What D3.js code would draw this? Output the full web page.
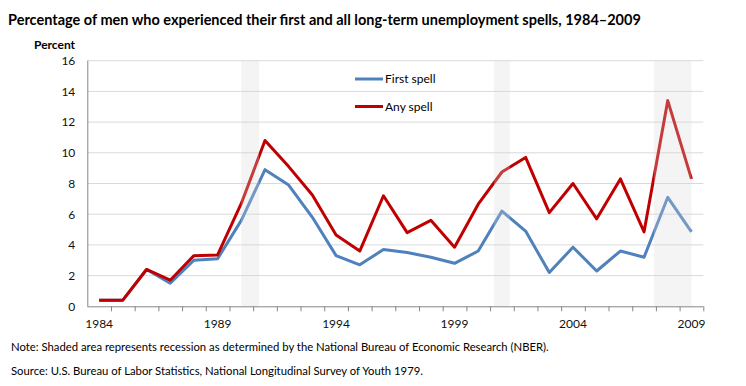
<!DOCTYPE html>
<html>
<head>
<meta charset="utf-8">
<script src="https://cdn.jsdelivr.net/npm/d3@7"></script>
<style>
body { margin: 0; background: #fff; }
svg text { font-family: Lato, "Open Sans", sans-serif; fill: #000; }
.title { font-weight: bold; font-size: 14.5px; }
.axis path, .axis line { stroke: #868686; }
.axis text { font-size: 12px; fill: #111; }
.grid line { stroke: #d9d9d9; }
.note { font-size: 11.3px; }
</style>
</head>
<body>
<svg id="chart" width="746" height="386"></svg>
<script>
var years = d3.range(1984, 2010);
var firstSpell = [0.4, 0.4, 2.4, 1.5, 3.0, 3.1, 5.6, 8.9, 7.9, 5.8, 3.3, 2.7, 3.7,
    3.5, 3.2, 2.8, 3.6, 6.2, 4.9, 2.2, 3.85, 2.3, 3.6, 3.2, 7.1, 4.85];
var anySpell = [0.4, 0.4, 2.4, 1.7, 3.3, 3.35, 6.7, 10.8, 9.1, 7.25, 4.65, 3.6, 7.2,
    4.8, 5.6, 3.85, 6.65, 8.75, 9.7, 6.1, 8.0, 5.7, 8.3, 4.85, 13.4, 8.3];
var yTicks = [0, 2, 4, 6, 8, 10, 12, 14, 16];
var xLabels = [1984, 1989, 1994, 1999, 2004, 2009];
// NBER recessions as fractional years (start, end)
var recessionStart = [1990.5, 2001.17, 2007.92];
var recessionEnd = [1991.25, 2001.83, 2009.5];

var margin = {top: 60.7, left: 87.3, right: 42.7, bottom: 79.7};
var width = 746 - margin.left - margin.right,
    height = 386 - margin.top - margin.bottom;

var svg = d3.select("#chart");

svg.append("text")
    .attr("class", "title")
    .attr("x", 8)
    .attr("y", 25)
    .text("Percentage of men who experienced their first and all long-term unemployment spells, 1984\u20132009");

svg.append("text")
    .attr("x", 34)
    .attr("y", 49)
    .style("font-size", "12px")
    .style("font-weight", "bold")
    .text("Percent");

var g = svg.append("g")
    .attr("transform", "translate(" + margin.left + "," + margin.top + ")");

// years map to the band they start; points sit in the middle of each year
var x = d3.scaleLinear().domain([1984, 2010]).range([0, width]);
var y = d3.scaleLinear().domain([0, 16]).range([height, 0]);

g.append("g")
    .attr("class", "grid")
    .selectAll("line")
    .data(yTicks.slice(1))
    .enter()
    .append("line")
    .attr("x1", 0)
    .attr("x2", width)
    .attr("y1", function(d) { return y(d); })
    .attr("y2", function(d) { return y(d); });

var line = d3.line()
    .x(function(d, i) { return x(years[i] + 0.5); })
    .y(function(d) { return y(d); });

g.append("path")
    .datum(firstSpell)
    .attr("fill", "none")
    .attr("stroke", "#4f81bd")
    .attr("stroke-width", 3)
    .attr("stroke-linejoin", "round")
    .attr("d", line);

g.append("path")
    .datum(anySpell)
    .attr("fill", "none")
    .attr("stroke", "#c00000")
    .attr("stroke-width", 3)
    .attr("stroke-linejoin", "round")
    .attr("d", line);

// recession shading sits over the lines, slightly see-through
g.selectAll(".recession")
    .data(recessionStart)
    .enter()
    .append("rect")
    .attr("class", "recession")
    .attr("x", function(d) { return x(d); })
    .attr("y", 0)
    .attr("width", function(d, i) { return x(recessionEnd[i]) - x(d); })
    .attr("height", height)
    .attr("fill", "#d9d9d9")
    .attr("opacity", 0.28);

var yAxis = g.append("g")
    .attr("class", "axis")
    .call(d3.axisLeft(y).tickValues(yTicks).tickSize(0).tickPadding(12));
yAxis.select(".domain").attr("d", "M0.5,0V" + height);

var xAxis = g.append("g")
    .attr("class", "axis")
    .attr("transform", "translate(0," + height + ")")
    .call(d3.axisBottom(x).tickValues(d3.range(1985, 2011)).tickSize(5).tickFormat(""));
xAxis.select(".domain").attr("d", "M0,0.5H" + width);

g.append("g")
    .attr("class", "axis")
    .selectAll("text")
    .data(xLabels)
    .enter()
    .append("text")
    .attr("x", function(d) { return x(d + 0.5); })
    .attr("y", height + 22)
    .attr("text-anchor", "middle")
    .style("font-size", "12px")
    .text(function(d) { return d; });

// legend
var legend = svg.append("g").attr("transform", "translate(355,0)");
var legendItems = [{name: "First spell", color: "#4f81bd", y: 79}, {name: "Any spell", color: "#c00000", y: 106.5}];
legend.selectAll("line")
    .data(legendItems)
    .enter()
    .append("line")
    .attr("x1", 0).attr("x2", 28)
    .attr("y1", function(d) { return d.y; })
    .attr("y2", function(d) { return d.y; })
    .attr("stroke", function(d) { return d.color; })
    .attr("stroke-width", 3);
legend.selectAll("text")
    .data(legendItems)
    .enter()
    .append("text")
    .attr("x", 30)
    .attr("y", function(d) { return d.y + 4; })
    .style("font-size", "12px")
    .text(function(d) { return d.name; });

svg.append("text")
    .attr("class", "note")
    .attr("x", 11)
    .attr("y", 351)
    .text("Note: Shaded area represents recession as determined by the National Bureau of Economic Research (NBER).");

svg.append("text")
    .attr("class", "note")
    .attr("x", 11)
    .attr("y", 375)
    .text("Source: U.S. Bureau of Labor Statistics, National Longitudinal Survey of Youth 1979.");
</script>
</body>
</html>
